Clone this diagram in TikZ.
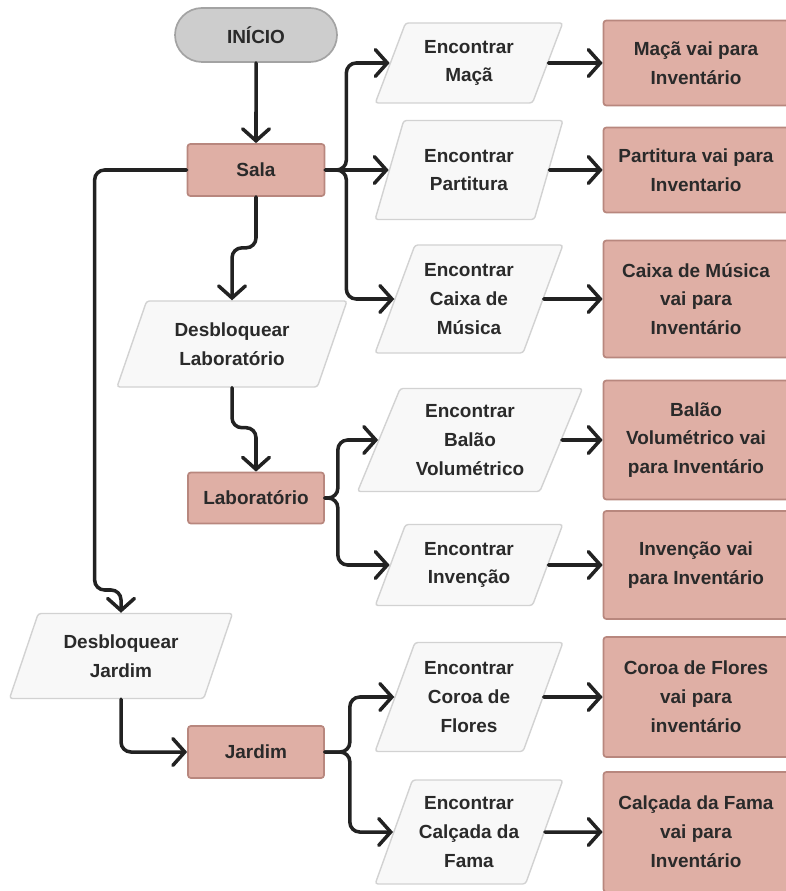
\documentclass[tikz,border=0pt]{standalone}
\usepackage{fontspec}
\setmainfont{Liberation Sans}
\usepackage{xcolor}
\usepackage{tikz}
\usetikzlibrary{shapes.geometric,shapes.misc,arrows.meta}

\definecolor{cinza}{HTML}{CDCDCD}
\definecolor{bordacinza}{HTML}{A3A3A3}
\definecolor{rosa}{HTML}{DFAFA5}
\definecolor{bordarosa}{HTML}{B8877E}
\definecolor{fundoio}{HTML}{F8F8F8}
\definecolor{bordaio}{HTML}{D2D2D2}
\definecolor{texto}{HTML}{2A2A2A}
\definecolor{linha}{HTML}{222222}
\newcommand\upx{0.025cm}

\begin{document}
\begin{tikzpicture}[x=0.025cm,y=-0.025cm,
    every node/.style={font=\bfseries\fontsize{13.5}{20.5}\selectfont,text=texto,align=center,inner sep=0pt},
    dim/.style 2 args={minimum width=#1*\upx,minimum height=#2*\upx},
    termo/.style={rounded rectangle,draw=bordacinza,fill=cinza,line width=1.2pt},
    proc/.style={rectangle,rounded corners=2pt,draw=bordarosa,fill=rosa,line width=1.2pt},
    io/.style={trapezium,trapezium left angle=65,trapezium right angle=115,
        trapezium stretches=true,rounded corners=2pt,draw=bordaio,fill=fundoio,line width=1pt},
    seta/.style={draw=linha,line width=2.5pt,rounded corners=7pt,line cap=round,
        -{Straight Barb[length=8.5pt,width=19pt,line cap=round]}}]

        \useasboundingbox (0,0) rectangle (785,891);

        % fluxo principal
        \node[termo,dim={162}{54}] (ini) at (256,35) {INÍCIO};
        \node[proc,dim={137}{52}] (sala) at (256,170) {Sala};
        \node[io,dim={230}{86}] (dlab) at (232,344) {Desbloquear\\Laboratório};
        \node[proc,dim={136}{51}] (lab) at (256,498) {Laboratório};
        \node[io,dim={223}{85}] (djar) at (121,656) {Desbloquear\\Jardim};
        \node[proc,dim={136}{52}] (jar) at (256,752) {Jardim};

        % encontrar
        \node[io,dim={188}{80}] (emaca) at (469,63) {Encontrar\\Maçã};
        \node[io,dim={188}{99}] (epart) at (469,170) {Encontrar\\Partitura};
        \node[io,dim={188}{108}] (ecaixa) at (469,299) {Encontrar\\Caixa de\\Música};
        \node[io,dim={225}{103}] (ebalao) at (470,440) {Encontrar\\Balão\\Volumétrico};
        \node[io,dim={188}{81}] (einv) at (469,565) {Encontrar\\Invenção};
        \node[io,dim={188}{109}] (ecoroa) at (469,697) {Encontrar\\Coroa de\\Flores};
        \node[io,dim={188}{104}] (ecalc) at (469,832) {Encontrar\\Calçada da\\Fama};

        % inventario
        \node[proc,dim={185}{85}] (imaca) at (696,63) {Maçã vai para\\Inventário};
        \node[proc,dim={185}{85}] (ipart) at (696,170) {Partitura vai para\\Inventario};
        \node[proc,dim={185}{117}] (icaixa) at (696,299) {Caixa de Música\\vai para\\Inventário};
        \node[proc,dim={185}{119}] (ibalao) at (696,440) {Balão\\Volumétrico vai\\para  Inventário};
        \node[proc,dim={185}{108}] (iinv) at (696,565) {Invenção vai\\para  Inventário};
        \node[proc,dim={185}{120}] (icoroa) at (696,697) {Coroa de Flores\\vai para\\inventário};
        \node[proc,dim={185}{120}] (icalc) at (696,832) {Calçada da Fama\\vai para\\Inventário};

        \draw[seta] (ini) -- (sala);
        \draw[seta] (sala.south) -- ++(0,51) -| (dlab.north);
        \draw[seta] (dlab.south) -- ++(0,40) -| (lab.north);
        \draw[seta] (sala.west) -| ++(-92,420) -| (djar.north);
        \draw[seta] (djar.south) |- (jar.west);

        \draw[seta] (sala.east) -- ++(21,0) |- (emaca.west);
        \draw[seta] (sala.east) -- (epart.west);
        \draw[seta] (sala.east) -- ++(21,0) |- (ecaixa.west);
        \draw[seta] (lab.east) -- ++(13,0) |- (ebalao.west);
        \draw[seta] (lab.east) -- ++(13,0) |- (einv.west);
        \draw[seta] (jar.east) -- ++(25,0) |- (ecoroa.west);
        \draw[seta] (jar.east) -- ++(25,0) |- (ecalc.west);

        \foreach \e/\i in {emaca/imaca,epart/ipart,ecaixa/icaixa,ebalao/ibalao,einv/iinv,ecoroa/icoroa,ecalc/icalc}
            { \draw[seta] (\e.east) -- (\i.west);}
    \end{tikzpicture}
\end{document}
